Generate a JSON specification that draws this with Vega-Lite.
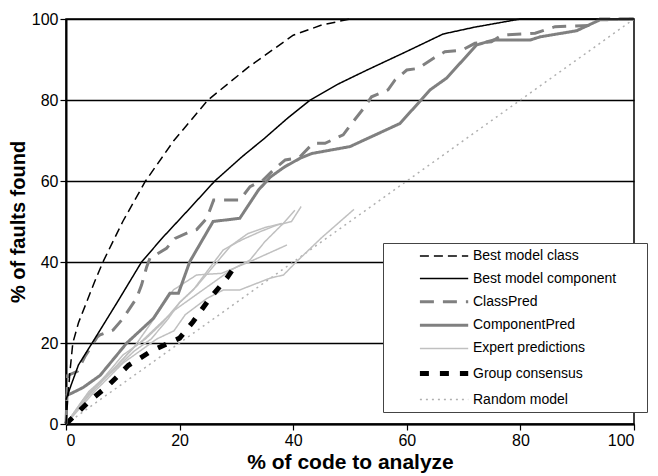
{
  "$schema": "https://vega.github.io/schema/vega-lite/v6.json",
  "autosize": {"type": "none"},
  "padding": {"left": 66, "top": 19, "right": 24, "bottom": 52},
  "width": 568,
  "height": 405,
  "config": {
    "font": "Liberation Sans",
    "view": {"stroke": "black", "strokeWidth": 1.5},
    "axis": {"labelColor": "black", "titleColor": "black", "domainColor": "black", "tickColor": "black", "domainWidth": 2, "tickWidth": 1.2, "tickSize": 6, "labelFontSize": 16, "titleFontSize": 20, "titleFontWeight": "bold", "labelPadding": 2},
    "legend": {"title": null, "orient": "none", "legendX": 317, "legendY": 224, "padding": 5, "fillColor": "white", "strokeColor": "#444444", "symbolType": "M3.2,0H10.1M33.4,0", "symbolSize": 196, "labelFontSize": 14, "labelColor": "black", "labelOffset": 66, "rowPadding": 7.6}
  },
  "data": {"values": [
    {"s":"Random model","g":"R","x":0,"y":0},{"s":"Random model","g":"R","x":100,"y":100},
    {"s":"Expert predictions","g":"E1","x":0,"y":0},{"s":"Expert predictions","g":"E1","x":4,"y":8},{"s":"Expert predictions","g":"E1","x":8,"y":13},{"s":"Expert predictions","g":"E1","x":12,"y":19},{"s":"Expert predictions","g":"E1","x":14,"y":21},{"s":"Expert predictions","g":"E1","x":17,"y":25},{"s":"Expert predictions","g":"E1","x":20,"y":30},{"s":"Expert predictions","g":"E1","x":22.4,"y":33.1},{"s":"Expert predictions","g":"E1","x":25,"y":38},{"s":"Expert predictions","g":"E1","x":27.7,"y":43},{"s":"Expert predictions","g":"E1","x":31,"y":45.5},{"s":"Expert predictions","g":"E1","x":34.2,"y":47.5},{"s":"Expert predictions","g":"E1","x":37.1,"y":49.1},{"s":"Expert predictions","g":"E1","x":39.7,"y":50},{"s":"Expert predictions","g":"E1","x":41.4,"y":53.7},
    {"s":"Expert predictions","g":"E2","x":0,"y":0},{"s":"Expert predictions","g":"E2","x":3,"y":6},{"s":"Expert predictions","g":"E2","x":7,"y":12},{"s":"Expert predictions","g":"E2","x":10,"y":17},{"s":"Expert predictions","g":"E2","x":13,"y":20},{"s":"Expert predictions","g":"E2","x":16,"y":24},{"s":"Expert predictions","g":"E2","x":19,"y":28},{"s":"Expert predictions","g":"E2","x":22,"y":31},{"s":"Expert predictions","g":"E2","x":26,"y":35},{"s":"Expert predictions","g":"E2","x":29,"y":38},{"s":"Expert predictions","g":"E2","x":32.4,"y":40.5},{"s":"Expert predictions","g":"E2","x":35,"y":45},{"s":"Expert predictions","g":"E2","x":38.3,"y":49.6},{"s":"Expert predictions","g":"E2","x":40.3,"y":52.8},
    {"s":"Expert predictions","g":"E3","x":0,"y":0},{"s":"Expert predictions","g":"E3","x":4,"y":7},{"s":"Expert predictions","g":"E3","x":8,"y":13},{"s":"Expert predictions","g":"E3","x":12,"y":19},{"s":"Expert predictions","g":"E3","x":15,"y":25},{"s":"Expert predictions","g":"E3","x":18.9,"y":33.1},{"s":"Expert predictions","g":"E3","x":23,"y":36.8},{"s":"Expert predictions","g":"E3","x":27.4,"y":37.2},{"s":"Expert predictions","g":"E3","x":32.4,"y":40.1},{"s":"Expert predictions","g":"E3","x":38.9,"y":44.2},
    {"s":"Expert predictions","g":"E4","x":0,"y":0},{"s":"Expert predictions","g":"E4","x":5,"y":8},{"s":"Expert predictions","g":"E4","x":10,"y":15},{"s":"Expert predictions","g":"E4","x":13,"y":18},{"s":"Expert predictions","g":"E4","x":16,"y":21},{"s":"Expert predictions","g":"E4","x":19,"y":23},{"s":"Expert predictions","g":"E4","x":21,"y":27},{"s":"Expert predictions","g":"E4","x":24.8,"y":31},{"s":"Expert predictions","g":"E4","x":27.7,"y":33.1},{"s":"Expert predictions","g":"E4","x":30.6,"y":33.1},{"s":"Expert predictions","g":"E4","x":35.9,"y":36},{"s":"Expert predictions","g":"E4","x":38.3,"y":36.8},{"s":"Expert predictions","g":"E4","x":40.6,"y":40.1},{"s":"Expert predictions","g":"E4","x":45,"y":46},{"s":"Expert predictions","g":"E4","x":50.7,"y":53},
    {"s":"Expert predictions","g":"E5","x":0,"y":0},{"s":"Expert predictions","g":"E5","x":5,"y":9},{"s":"Expert predictions","g":"E5","x":9,"y":14},{"s":"Expert predictions","g":"E5","x":12,"y":18},{"s":"Expert predictions","g":"E5","x":15,"y":21},{"s":"Expert predictions","g":"E5","x":18,"y":26},{"s":"Expert predictions","g":"E5","x":20,"y":30},{"s":"Expert predictions","g":"E5","x":23,"y":34},{"s":"Expert predictions","g":"E5","x":26,"y":39},{"s":"Expert predictions","g":"E5","x":29,"y":44},{"s":"Expert predictions","g":"E5","x":32,"y":47},{"s":"Expert predictions","g":"E5","x":35,"y":48.5},{"s":"Expert predictions","g":"E5","x":38,"y":49.5},
    {"s":"Group consensus","g":"G","x":0,"y":0},{"s":"Group consensus","g":"G","x":4,"y":5.5},{"s":"Group consensus","g":"G","x":7.5,"y":9.6},{"s":"Group consensus","g":"G","x":11,"y":14.5},{"s":"Group consensus","g":"G","x":15,"y":18},{"s":"Group consensus","g":"G","x":20,"y":21.2},{"s":"Group consensus","g":"G","x":22.4,"y":25.3},{"s":"Group consensus","g":"G","x":25.1,"y":30.6},{"s":"Group consensus","g":"G","x":28.3,"y":36},{"s":"Group consensus","g":"G","x":30,"y":39.5},
    {"s":"ComponentPred","g":"CP","x":0,"y":7},{"s":"ComponentPred","g":"CP","x":1,"y":7.6},{"s":"ComponentPred","g":"CP","x":3,"y":9},{"s":"ComponentPred","g":"CP","x":6,"y":12},{"s":"ComponentPred","g":"CP","x":10.7,"y":20},{"s":"ComponentPred","g":"CP","x":15.4,"y":26.1},{"s":"ComponentPred","g":"CP","x":18.3,"y":32.3},{"s":"ComponentPred","g":"CP","x":19.8,"y":32.3},{"s":"ComponentPred","g":"CP","x":21.8,"y":40.1},{"s":"ComponentPred","g":"CP","x":25.9,"y":50},{"s":"ComponentPred","g":"CP","x":30.6,"y":50.8},{"s":"ComponentPred","g":"CP","x":33.9,"y":57.8},{"s":"ComponentPred","g":"CP","x":36,"y":61},{"s":"ComponentPred","g":"CP","x":38.5,"y":63.5},{"s":"ComponentPred","g":"CP","x":41.2,"y":65.6},{"s":"ComponentPred","g":"CP","x":43.3,"y":66.8},{"s":"ComponentPred","g":"CP","x":50,"y":68.5},{"s":"ComponentPred","g":"CP","x":58.8,"y":74.2},{"s":"ComponentPred","g":"CP","x":64.1,"y":82.5},{"s":"ComponentPred","g":"CP","x":67,"y":85.4},{"s":"ComponentPred","g":"CP","x":72.3,"y":93.6},{"s":"ComponentPred","g":"CP","x":75.2,"y":94.8},{"s":"ComponentPred","g":"CP","x":81.7,"y":94.8},{"s":"ComponentPred","g":"CP","x":83.5,"y":95.6},{"s":"ComponentPred","g":"CP","x":89.9,"y":97.1},{"s":"ComponentPred","g":"CP","x":94,"y":99.8},{"s":"ComponentPred","g":"CP","x":100,"y":100},
    {"s":"ClassPred","g":"C","x":0,"y":0},{"s":"ClassPred","g":"C","x":0.3,"y":12},{"s":"ClassPred","g":"C","x":2,"y":13},{"s":"ClassPred","g":"C","x":3.3,"y":16.6},{"s":"ClassPred","g":"C","x":4.8,"y":19.9},{"s":"ClassPred","g":"C","x":5.5,"y":21.5},{"s":"ClassPred","g":"C","x":6,"y":22},{"s":"ClassPred","g":"C","x":8.3,"y":23.2},{"s":"ClassPred","g":"C","x":10,"y":26},{"s":"ClassPred","g":"C","x":12.4,"y":31},{"s":"ClassPred","g":"C","x":13.3,"y":34.3},{"s":"ClassPred","g":"C","x":14.2,"y":38.8},{"s":"ClassPred","g":"C","x":14.8,"y":41},{"s":"ClassPred","g":"C","x":15.7,"y":41.7},{"s":"ClassPred","g":"C","x":17.7,"y":43.4},{"s":"ClassPred","g":"C","x":19.2,"y":45.8},{"s":"ClassPred","g":"C","x":21.8,"y":47.5},{"s":"ClassPred","g":"C","x":23,"y":48},{"s":"ClassPred","g":"C","x":24.8,"y":50.8},{"s":"ClassPred","g":"C","x":26,"y":55.3},{"s":"ClassPred","g":"C","x":30.6,"y":55.3},{"s":"ClassPred","g":"C","x":32.4,"y":58.6},{"s":"ClassPred","g":"C","x":34.7,"y":60.2},{"s":"ClassPred","g":"C","x":36.5,"y":62.7},{"s":"ClassPred","g":"C","x":38.6,"y":65.2},{"s":"ClassPred","g":"C","x":40,"y":65.5},{"s":"ClassPred","g":"C","x":41.2,"y":66},{"s":"ClassPred","g":"C","x":43.5,"y":69.3},{"s":"ClassPred","g":"C","x":45.6,"y":69.3},{"s":"ClassPred","g":"C","x":48.8,"y":71.4},{"s":"ClassPred","g":"C","x":50.3,"y":74.2},{"s":"ClassPred","g":"C","x":52.6,"y":78.3},{"s":"ClassPred","g":"C","x":53.8,"y":80.8},{"s":"ClassPred","g":"C","x":56.7,"y":82.5},{"s":"ClassPred","g":"C","x":57.9,"y":84.9},{"s":"ClassPred","g":"C","x":60,"y":87.4},{"s":"ClassPred","g":"C","x":62,"y":87.8},{"s":"ClassPred","g":"C","x":64.7,"y":90.3},{"s":"ClassPred","g":"C","x":66.7,"y":91.9},{"s":"ClassPred","g":"C","x":69.7,"y":92.3},{"s":"ClassPred","g":"C","x":72,"y":94},{"s":"ClassPred","g":"C","x":74.9,"y":94.4},{"s":"ClassPred","g":"C","x":76.7,"y":96},{"s":"ClassPred","g":"C","x":82.6,"y":96.5},{"s":"ClassPred","g":"C","x":86.1,"y":98.1},{"s":"ClassPred","g":"C","x":92.3,"y":98.4},{"s":"ClassPred","g":"C","x":94,"y":100},{"s":"ClassPred","g":"C","x":100,"y":100},
    {"s":"Best model component","g":"BC","x":0,"y":6},{"s":"Best model component","g":"BC","x":1,"y":10},{"s":"Best model component","g":"BC","x":2.2,"y":14.6},{"s":"Best model component","g":"BC","x":4.6,"y":20},{"s":"Best model component","g":"BC","x":9,"y":30},{"s":"Best model component","g":"BC","x":13.3,"y":40},{"s":"Best model component","g":"BC","x":17,"y":46},{"s":"Best model component","g":"BC","x":21.5,"y":52.8},{"s":"Best model component","g":"BC","x":26.2,"y":60},{"s":"Best model component","g":"BC","x":31,"y":66},{"s":"Best model component","g":"BC","x":35,"y":70.6},{"s":"Best model component","g":"BC","x":39,"y":75.5},{"s":"Best model component","g":"BC","x":43,"y":80},{"s":"Best model component","g":"BC","x":48,"y":84},{"s":"Best model component","g":"BC","x":53,"y":87.4},{"s":"Best model component","g":"BC","x":60,"y":92},{"s":"Best model component","g":"BC","x":66.4,"y":96.3},{"s":"Best model component","g":"BC","x":72,"y":98},{"s":"Best model component","g":"BC","x":80,"y":100},{"s":"Best model component","g":"BC","x":100,"y":100},
    {"s":"Best model class","g":"BK","x":0,"y":0},{"s":"Best model class","g":"BK","x":0.3,"y":6},{"s":"Best model class","g":"BK","x":0.7,"y":13},{"s":"Best model class","g":"BK","x":1.2,"y":20},{"s":"Best model class","g":"BK","x":2.2,"y":25},{"s":"Best model class","g":"BK","x":3.6,"y":30},{"s":"Best model class","g":"BK","x":5,"y":35},{"s":"Best model class","g":"BK","x":6.5,"y":40},{"s":"Best model class","g":"BK","x":10,"y":50},{"s":"Best model class","g":"BK","x":14,"y":60},{"s":"Best model class","g":"BK","x":19,"y":70},{"s":"Best model class","g":"BK","x":25,"y":80},{"s":"Best model class","g":"BK","x":32,"y":88},{"s":"Best model class","g":"BK","x":40,"y":96},{"s":"Best model class","g":"BK","x":45,"y":98.5},{"s":"Best model class","g":"BK","x":50,"y":100}
  ]},
  "mark": {"type": "line", "strokeCap": "butt", "strokeJoin": "miter"},
  "encoding": {
    "x": {"field": "x", "type": "quantitative", "scale": {"domain": [0, 100], "nice": false}, "axis": {"values": [0, 20, 40, 60, 80, 100], "grid": false, "title": "% of code to analyze", "titleY": 38, "titleBaseline": "middle", "titleFontSize": 21}},
    "y": {"field": "y", "type": "quantitative", "scale": {"domain": [0, 100], "nice": false}, "axis": {"values": [0, 20, 40, 60, 80, 100], "grid": true, "gridColor": "black", "gridOpacity": 1, "gridWidth": 1.3, "title": "% of faults found", "titleX": -48, "titleY": 202.5, "titleBaseline": "middle"}},
    "detail": {"field": "g"},
    "color": {"field": "s", "type": "nominal", "scale": {"domain": ["Best model class", "Best model component", "ClassPred", "ComponentPred", "Expert predictions", "Group consensus", "Random model"], "range": ["#000000", "#000000", "#808080", "#808080", "#c0c0c0", "#000000", "#b0b0b0"]}, "legend": {"title": null}},
    "strokeDash": {"field": "s", "type": "nominal", "scale": {"domain": ["Best model class", "Best model component", "ClassPred", "ComponentPred", "Expert predictions", "Group consensus", "Random model"], "range": [[9, 5], [1, 0], [14, 9], [1, 0], [1, 0], [9, 11], [2, 4]]}, "legend": {"title": null}},
    "strokeWidth": {"field": "s", "type": "nominal", "scale": {"type": "ordinal", "domain": ["Best model class", "Best model component", "ClassPred", "ComponentPred", "Expert predictions", "Group consensus", "Random model"], "range": [1.5, 1.5, 3, 3, 1.5, 5, 1.5]}, "legend": {"title": null}}
  }
}
